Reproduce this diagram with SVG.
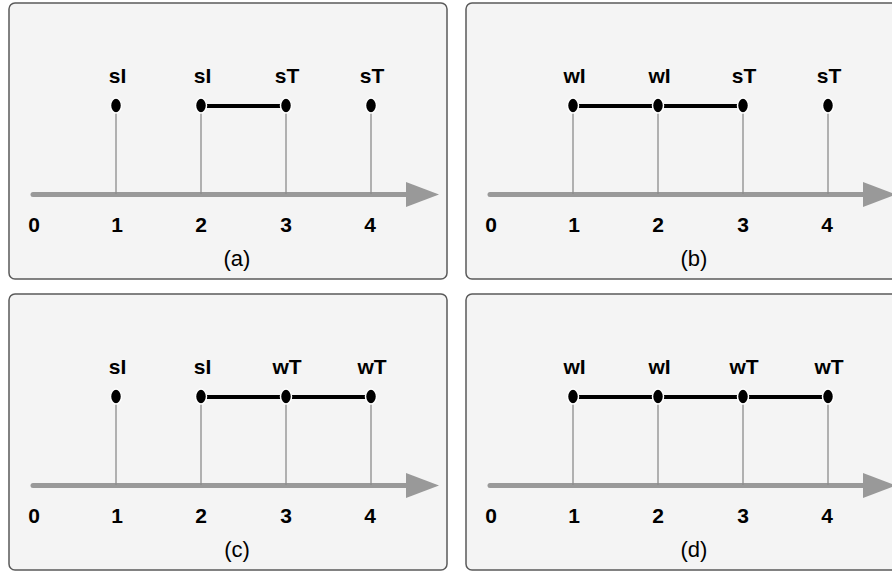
<svg xmlns="http://www.w3.org/2000/svg" width="892" height="573" viewBox="0 0 892 573">
  <style>
    .panel { fill: #f4f4f4; stroke: #5a5a5a; stroke-width: 1.5; }
    .axis { stroke: #999; stroke-width: 5; stroke-linecap: round; fill: none; }
    .head { fill: #999; }
    .stem { stroke: #8c8c8c; stroke-width: 1.3; }
    .dot { fill: #000; stroke: #fff; stroke-width: 1.5; }
    .link { stroke: #000; stroke-width: 4; stroke-linecap: round; fill: none; }
    .lbl { font-family: "Liberation Sans", Arial, sans-serif; font-size: 21px; font-weight: bold; fill: #000; text-anchor: middle; }
    .cap { font-family: "Liberation Sans", Arial, sans-serif; font-size: 22px; fill: #000; text-anchor: middle; }
  </style>
  <defs>
    <!-- shared frame: box, time axis, tick numbers -->
    <g id="frame">
      <rect class="panel" x="9" y="3" width="438" height="276" rx="6"/>
      <line class="axis" x1="33" y1="194.5" x2="410" y2="194.5"/>
      <polygon class="head" points="406,182 439,194.5 406,207"/>
      <text class="lbl" x="34" y="232">0</text>
      <text class="lbl" x="117" y="232">1</text>
      <text class="lbl" x="201" y="232">2</text>
      <text class="lbl" x="286" y="232">3</text>
      <text class="lbl" x="370" y="232">4</text>
    </g>
  </defs>

  <!-- (a) -->
  <g id="panel-a">
    <use href="#frame"/>
    <text class="cap" x="237" y="266">(a)</text>
    <g id="a-connectors">
      <line class="link" x1="201" y1="106" x2="286" y2="106"/>
    </g>
    <g id="a-n1"><line class="stem" x1="116" y1="112" x2="116" y2="194"/><ellipse class="dot" cx="116" cy="105.5" rx="5.5" ry="7.5"/><text class="lbl" x="117.5" y="83">sI</text></g>
    <g id="a-n2"><line class="stem" x1="201" y1="112" x2="201" y2="194"/><ellipse class="dot" cx="201" cy="105.5" rx="5.5" ry="7.5"/><text class="lbl" x="202.5" y="83">sI</text></g>
    <g id="a-n3"><line class="stem" x1="286" y1="112" x2="286" y2="194"/><ellipse class="dot" cx="286" cy="105.5" rx="5.5" ry="7.5"/><text class="lbl" x="287" y="83">sT</text></g>
    <g id="a-n4"><line class="stem" x1="371" y1="112" x2="371" y2="194"/><ellipse class="dot" cx="371" cy="105.5" rx="5.5" ry="7.5"/><text class="lbl" x="372" y="83">sT</text></g>
  </g>

  <!-- (b) -->
  <g id="panel-b" transform="translate(457,0)">
    <use href="#frame"/>
    <text class="cap" x="237" y="266">(b)</text>
    <g id="b-connectors">
      <line class="link" x1="116" y1="106" x2="201" y2="106"/>
      <line class="link" x1="201" y1="106" x2="286" y2="106"/>
    </g>
    <g id="b-n1"><line class="stem" x1="116" y1="112" x2="116" y2="194"/><ellipse class="dot" cx="116" cy="105.5" rx="5.5" ry="7.5"/><text class="lbl" x="117.5" y="83">wI</text></g>
    <g id="b-n2"><line class="stem" x1="201" y1="112" x2="201" y2="194"/><ellipse class="dot" cx="201" cy="105.5" rx="5.5" ry="7.5"/><text class="lbl" x="202.5" y="83">wI</text></g>
    <g id="b-n3"><line class="stem" x1="286" y1="112" x2="286" y2="194"/><ellipse class="dot" cx="286" cy="105.5" rx="5.5" ry="7.5"/><text class="lbl" x="287" y="83">sT</text></g>
    <g id="b-n4"><line class="stem" x1="371" y1="112" x2="371" y2="194"/><ellipse class="dot" cx="371" cy="105.5" rx="5.5" ry="7.5"/><text class="lbl" x="372" y="83">sT</text></g>
  </g>

  <!-- (c) -->
  <g id="panel-c" transform="translate(0,291)">
    <use href="#frame"/>
    <text class="cap" x="237" y="266">(c)</text>
    <g id="c-connectors">
      <line class="link" x1="201" y1="106" x2="286" y2="106"/>
      <line class="link" x1="286" y1="106" x2="371" y2="106"/>
    </g>
    <g id="c-n1"><line class="stem" x1="116" y1="112" x2="116" y2="194"/><ellipse class="dot" cx="116" cy="105.5" rx="5.5" ry="7.5"/><text class="lbl" x="117.5" y="83">sI</text></g>
    <g id="c-n2"><line class="stem" x1="201" y1="112" x2="201" y2="194"/><ellipse class="dot" cx="201" cy="105.5" rx="5.5" ry="7.5"/><text class="lbl" x="202.5" y="83">sI</text></g>
    <g id="c-n3"><line class="stem" x1="286" y1="112" x2="286" y2="194"/><ellipse class="dot" cx="286" cy="105.5" rx="5.5" ry="7.5"/><text class="lbl" x="287" y="83">wT</text></g>
    <g id="c-n4"><line class="stem" x1="371" y1="112" x2="371" y2="194"/><ellipse class="dot" cx="371" cy="105.5" rx="5.5" ry="7.5"/><text class="lbl" x="372" y="83">wT</text></g>
  </g>

  <!-- (d) -->
  <g id="panel-d" transform="translate(457,291)">
    <use href="#frame"/>
    <text class="cap" x="237" y="266">(d)</text>
    <g id="d-connectors">
      <line class="link" x1="116" y1="106" x2="201" y2="106"/>
      <line class="link" x1="201" y1="106" x2="286" y2="106"/>
      <line class="link" x1="286" y1="106" x2="371" y2="106"/>
    </g>
    <g id="d-n1"><line class="stem" x1="116" y1="112" x2="116" y2="194"/><ellipse class="dot" cx="116" cy="105.5" rx="5.5" ry="7.5"/><text class="lbl" x="117.5" y="83">wI</text></g>
    <g id="d-n2"><line class="stem" x1="201" y1="112" x2="201" y2="194"/><ellipse class="dot" cx="201" cy="105.5" rx="5.5" ry="7.5"/><text class="lbl" x="202.5" y="83">wI</text></g>
    <g id="d-n3"><line class="stem" x1="286" y1="112" x2="286" y2="194"/><ellipse class="dot" cx="286" cy="105.5" rx="5.5" ry="7.5"/><text class="lbl" x="287" y="83">wT</text></g>
    <g id="d-n4"><line class="stem" x1="371" y1="112" x2="371" y2="194"/><ellipse class="dot" cx="371" cy="105.5" rx="5.5" ry="7.5"/><text class="lbl" x="372" y="83">wT</text></g>
  </g>
</svg>
